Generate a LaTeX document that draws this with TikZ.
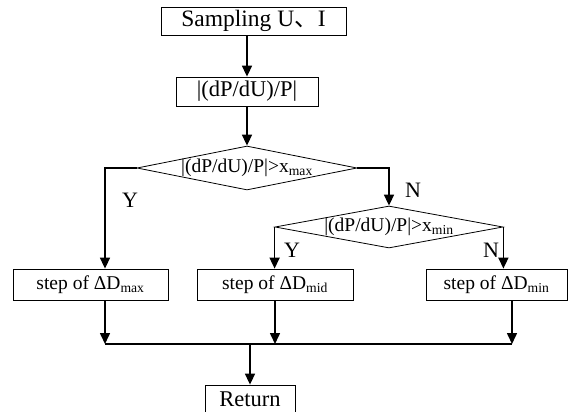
\documentclass[tikz,border=0pt]{standalone}
\usepackage{fontspec}
\setmainfont{Liberation Serif}
\newfontfamily\cjk{Noto Sans CJK SC}
\usetikzlibrary{shapes.geometric, arrows.meta}

\begin{document}
\begin{tikzpicture}[x=1pt, y=-1pt,
    >={Triangle[length=11pt, width=10pt]},
    flow/.style={line width=1.6pt},
    blk/.style={draw, line width=0.8pt, inner sep=0pt, font=\fontsize{22.5}{26}\selectfont},
    stepbox/.style={draw, line width=0.8pt, inner sep=0pt, minimum height=31pt, font=\fontsize{19.5}{23}\selectfont},
    dec/.style={draw, line width=0.8pt, diamond, inner sep=0pt, label={[font=\fontsize{19.5}{23}\selectfont]center:#1}},
    yn/.style={font=\fontsize{22}{26}\selectfont}]

    \useasboundingbox (0,0) rectangle (582,412);

    \node[blk, minimum width=185pt, minimum height=28pt, font=\fontsize{23.5}{26}\selectfont] (samp) at (253.5,21) {Sampling U{\cjk 、}I\hspace{14pt}};
    \node[blk, minimum width=142pt, minimum height=29pt] (ratio) at (247,91.5) {|(dP/dU)/P|};

    \node[dec={|(dP/dU)/P|>x\textsubscript{max}}, minimum width=220pt, minimum height=44pt] (dmax) at (247,168) {};
    \node[dec={|(dP/dU)/P|>x\textsubscript{min}}, minimum width=228pt, minimum height=42pt] (dmin) at (389,227) {};

    \node[stepbox, minimum width=155pt] (smax) at (90.5,284.5) {step of ΔD\textsubscript{max}};
    \node[stepbox, minimum width=156pt] (smid) at (275,284.5) {step of ΔD\textsubscript{mid}};
    \node[stepbox, minimum width=141pt] (smin) at (496.5,284.5) {step of ΔD\textsubscript{min}};

    \node[blk, minimum width=90pt, minimum height=28pt] (ret) at (250,399) {Return};

    \coordinate (join) at (250,344);

    \draw[flow, ->] (samp.south -| ratio) -- (ratio);
    \draw[flow, ->] (ratio) -- (dmax);
    \draw[flow, ->] (dmax.west) -| ([xshift=14.5pt]smax.north);
    \draw[flow, ->] (dmax.east) -| (dmin.north);
    \draw[flow, ->] (dmin.west) -- (dmin.west |- smid.north);
    \draw[flow, ->] (dmin.east) -- (dmin.east |- smin.north);

    \node[yn] (y1) at (130,200) {Y};
    \node[yn] (n1) at (413,190) {N};
    \node[yn] (y2) at (292,250) {Y};
    \node[yn] (n2) at (491,250) {N};

    \draw[flow, ->] ([xshift=14.5pt]smax.south) -- ([xshift=14.5pt]smax.south |- join);
    \draw[flow, ->] (smid.south) -- (smid.south |- join);
    \draw[flow, ->] ([xshift=15.5pt]smin.south) -- ([xshift=15.5pt]smin.south |- join);
    \draw[flow] ([xshift=14.5pt]smax.south |- join) -- ([xshift=15.5pt]smin.south |- join);
    \draw[flow, ->] (join) -- (ret);

\end{tikzpicture}
\end{document}
